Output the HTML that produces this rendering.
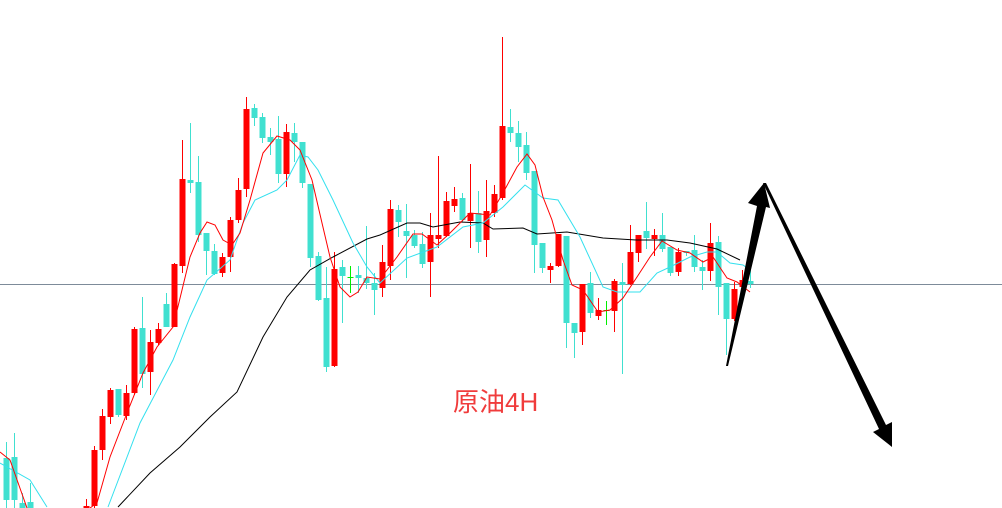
<!DOCTYPE html>
<html><head><meta charset="utf-8"><style>
html,body{margin:0;padding:0;background:#fff;}
svg{display:block;}
</style></head><body>
<svg width="1002" height="508" viewBox="0 0 1002 508" xmlns="http://www.w3.org/2000/svg" shape-rendering="crispEdges">
<rect width="1002" height="508" fill="#fff"/>
<line x1="0" y1="284.5" x2="1002" y2="284.5" stroke="#7d8b99" stroke-width="1"/>
<g id="c">
</g>
<g shape-rendering="auto" fill="none" stroke-width="1">
<polyline stroke="#000" points="118,507 150,473 180,447 210,417 237,392 263,337 287,297 310,270 333,257 367,239 380,235 407,223 420,223 433,227 460,222 483,223 493,229 523,228 537,234 567,232 603,238 637,240 667,240 690,243 717,249 740,260"/>
<polyline stroke="#33e0ee" points="0,463 30,480 47,507"/>
<polyline stroke="#33e0ee" points="108,507 140,423 173,360 190,317 207,280 230,260 243,223 255,200 277,190 287,180 300,155 308,157 318,170 333,200 353,243 367,267 380,283 407,258 437,247 463,227 483,223 503,207 525,185 543,198 558,200 580,237 603,287 617,292 640,292 657,273 670,267 690,257 707,252 717,252 730,263 743,265 750,270"/>
<polyline stroke="#f00" points="0,452 10,460 27,508"/>
<polyline stroke="#f00" points="90,508 97,503 110,457 127,413 143,373 157,347 173,327 182,290 190,257 200,233 207,222 215,225 223,240 232,245 240,233 250,200 263,153 277,136 290,140 300,150 312,180 322,223 330,257 340,287 350,297 358,292 367,277 380,279 397,257 413,234 422,234 437,245 450,233 470,213 490,215 503,193 517,167 527,154 535,165 543,197 552,220 563,260 572,285 583,290 598,312 610,310 623,298 637,277 650,257 662,241 677,250 690,253 703,262 713,257 727,278 737,282 750,292"/>
</g>
<g shape-rendering="auto" fill="#000">
<polygon points="726,366 757,206 748,203 764,183 770,208 766,207 728,366"/>
<polygon points="763,183 766,183 886,425 892,422 892,447 873,432 879,429"/>
</g>
<text x="453" y="411" font-family="'Liberation Sans','Noto Sans CJK SC',sans-serif" font-size="26" fill="#f03c3c">原油4H</text>
</svg>
<script>
var d=[
[6,'c',458,500,442,508],[14,'c',457,500,433,508],[22,'c',503,508,493,508],[30,'c',502,508,483,508],
[86,'r',506,508,499,508],[94,'r',450,506,446,508],[102,'r',416,450,409,460],[110,'r',390,417,388,424],[118,'c',389,415,389,417],[126,'r',393,416,385,420],
[134,'r',329,393,327,395],[142,'c',328,374,297,388],[150,'r',342,372,330,395],[158,'r',329,343,323,345],[166,'c',304,327,293,327],[174,'r',264,327,263,327],
[182,'r',179,266,140,273],[190,'c',180,183,123,193],[198,'c',182,235,156,242],[206,'c',233,251,233,275],[214,'c',251,274,244,275],[222,'r',257,273,253,277],
[230,'r',220,257,217,272],[238,'r',190,220,178,223],[246,'r',109,189,97,197],[254,'c',108,118,104,126],[262,'c',117,138,113,143],[270,'c',137,142,128,155],
[278,'c',139,174,116,183],[286,'r',132,174,124,187],[294,'c',133,142,123,162],[302,'c',142,183,142,188],[310,'c',184,258,184,267],[318,'c',256,300,252,301],
[326,'c',298,367,267,372],[334,'r',269,366,252,367],[342,'c',267,276,260,323],[350,'g',277,278,266,293],[358,'c',275,278,266,293],[366,'c',278,283,226,289],
[374,'c',283,290,273,315],[382,'r',262,288,245,297],[390,'r',209,266,200,280],[398,'c',210,222,205,237],[406,'c',231,236,204,278],[414,'c',235,246,230,248],
[422,'c',244,264,232,268],[430,'r',235,262,213,297],[438,'r',235,239,156,248],[446,'r',201,236,192,237],[454,'r',199,206,187,212],[462,'c',198,220,193,222],
[470,'r',213,221,164,248],[478,'c',213,242,191,253],[486,'r',211,240,180,257],[494,'r',194,213,185,217],[502,'r',126,198,37,200],[510,'c',127,133,109,142],
[518,'c',133,147,121,162],[526,'c',145,173,132,180],[534,'c',171,245,171,273],[542,'c',243,268,243,273],[550,'r',266,270,263,283],[558,'r',234,266,234,267],
[566,'c',236,323,236,348],[574,'c',323,333,323,358],[582,'r',284,332,284,345],[590,'c',283,313,272,318],[598,'r',310,316,298,320],[606,'g',310,311,301,325],
[614,'r',281,311,279,332],[622,'c',282,285,263,374],[630,'r',252,284,225,285],[638,'r',235,253,235,262],[646,'c',231,238,202,249],[654,'r',235,239,229,256],
[662,'c',235,249,213,252],[670,'c',247,273,247,276],[678,'r',252,272,248,276],[686,'c',251,253,251,256],[694,'c',250,267,235,272],[702,'c',267,271,260,290],
[710,'r',243,271,223,281],[718,'c',242,287,236,315],[726,'c',283,319,283,355],[734,'r',289,319,282,321],[742,'r',280,287,270,290],[750,'c',281,284,267,288]
];
var col={c:'#40e0d0',r:'#ff0000',g:'#00ee00'};
var s='';
d.forEach(function(k){var x=k[0],c=col[k[1]];
s+='<rect x="'+x+'" y="'+k[4]+'" width="1" height="'+(k[5]-k[4])+'" fill="'+c+'"/>';
s+='<rect x="'+(x-2.5)+'" y="'+k[2]+'" width="6" height="'+Math.max(1,k[3]-k[2])+'" fill="'+c+'"/>';});
document.getElementById('c').innerHTML=s;
</script>
</body></html>
